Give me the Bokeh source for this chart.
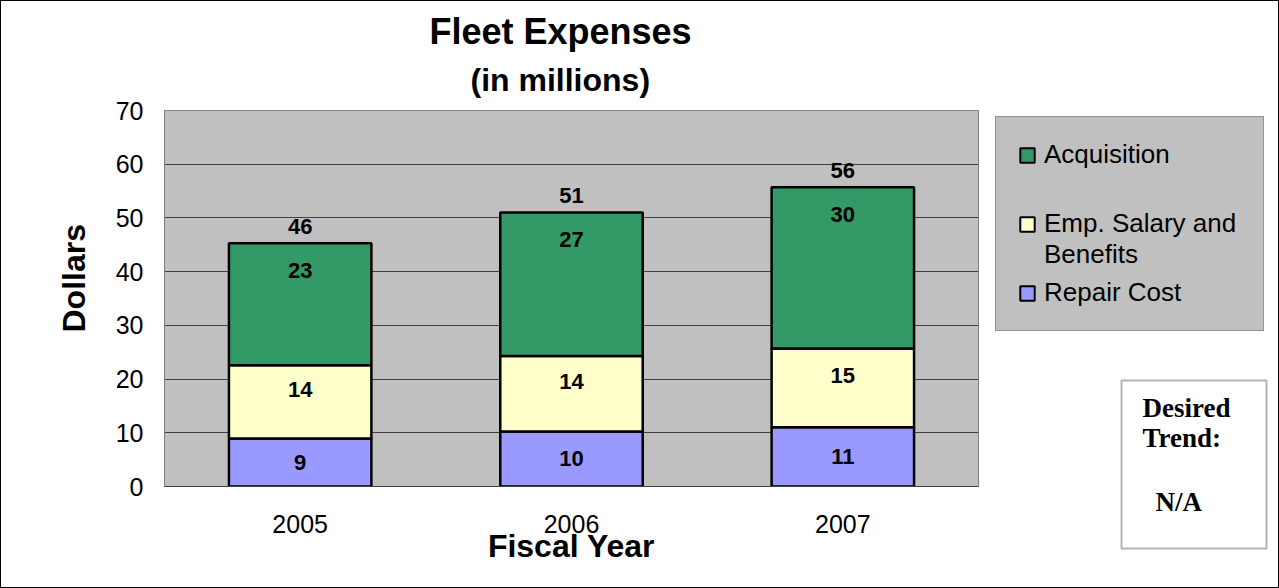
from bokeh.plotting import figure
from bokeh.layouts import row
from bokeh.models import (ColumnDataSource, FactorRange, Range1d, Legend, LegendItem,
                          Label, BoxAnnotation, Title)
from bokeh.core.properties import value
from bokeh.embed import file_html
from bokeh.resources import INLINE

# ---------------- data ----------------
years = ["2005", "2006", "2007"]
repair_cost = [8.95, 10.25, 11.05]
emp_salary = [13.6, 14.05, 14.65]
acquisition = [22.75, 26.7, 30.0]
repair_labels = ["9", "10", "11"]
salary_labels = ["14", "14", "15"]
acquisition_labels = ["23", "27", "30"]
total_labels = ["46", "51", "56"]
y_ticks = [0, 10, 20, 30, 40, 50, 60, 70]
legend_labels = ["Acquisition", " \nEmp. Salary and\nBenefits", "Repair Cost"]

SANS = "Liberation Sans"
SERIF = "Liberation Serif"
C_REPAIR, C_SALARY, C_ACQ = "#9999FF", "#FFFFCC", "#339966"

repair_mid = [r / 2 for r in repair_cost]
salary_mid = [r + s / 2 for r, s in zip(repair_cost, emp_salary)]
bar_top = [r + s + a for r, s, a in zip(repair_cost, emp_salary, acquisition)]

src = ColumnDataSource(dict(
    years=years,
    repair=repair_cost, salary=emp_salary, acq=acquisition,
    repair_mid=repair_mid, salary_mid=salary_mid, top=bar_top,
    repair_lbl=repair_labels, salary_lbl=salary_labels,
    acq_lbl=acquisition_labels, total_lbl=total_labels,
))

# ---------------- main chart ----------------
p = figure(
    x_range=FactorRange(factors=years, range_padding=0),
    y_range=Range1d(0, 70),
    width=988, height=586,
    min_border_left=163, min_border_right=11,
    min_border_top=109, min_border_bottom=101,
    output_backend="svg", toolbar_location=None,
)
p.frame_align = False
p.title.visible = False
p.background_fill_color = "#C0C0C0"
p.border_fill_color = "white"
p.outline_line_color = "#808080"
p.outline_line_width = 1

p.xgrid.visible = False
p.ygrid.ticker = y_ticks
p.ygrid.grid_line_color = "#404040"
p.ygrid.grid_line_width = 1

p.yaxis.ticker = y_ticks
for ax in (p.xaxis, p.yaxis):
    ax.major_tick_line_color = None
    ax.minor_tick_line_color = None
    ax.major_label_text_font = SANS
    ax.major_label_text_font_size = "25px"
    ax.major_label_text_color = "black"
    ax.axis_label_text_font = SANS
    ax.axis_label_text_font_style = "bold"
    ax.axis_label_text_color = "black"
p.yaxis.axis_line_color = "#808080"
p.xaxis.axis_line_color = "#404040"
p.yaxis.major_label_standoff = 15
p.xaxis.major_label_standoff = 22

p.xaxis.axis_label = "Fiscal Year"
p.xaxis.axis_label_text_font_size = "32px"
p.xaxis.axis_label_standoff = -8

# y-axis title placed as a side title so it can sit where the original does
p.add_layout(Title(text="Dollars", align="left", offset=154, text_font=SANS,
                   text_font_style="bold", text_font_size="32px",
                   text_color="black", standoff=42), "left")

p.add_layout(Title(text="(in millions)", align="left", offset=306, text_font=SANS,
                   text_font_style="bold", text_font_size="32px",
                   text_color="black", standoff=25), "above")
p.add_layout(Title(text="Fleet Expenses", align="left", offset=265, text_font=SANS,
                   text_font_style="bold", text_font_size="36px",
                   text_color="black", standoff=-9), "above")

p.vbar_stack(["repair", "salary", "acq"], x="years", width=0.525,
             color=[C_REPAIR, C_SALARY, C_ACQ], line_color="black",
             line_width=2.5, source=src)

common = dict(source=src, text_align="center", text_baseline="middle",
              text_font=value(SANS), text_font_style="bold",
              text_font_size="22px", text_color="black")
p.text(x="years", y="repair_mid", text="repair_lbl", **common)
p.text(x="years", y="salary_mid", text="salary_lbl", y_offset=-12, **common)
p.text(x="years", y="top", text="acq_lbl", y_offset=27, **common)
p.text(x="years", y="top", text="total_lbl", y_offset=-17, **common)

# ---------------- side panel: legend + desired trend ----------------
q = figure(width=289, height=586, x_range=Range1d(0, 289), y_range=Range1d(0, 586),
           min_border=0, x_axis_location=None, y_axis_location=None,
           output_backend="svg", toolbar_location=None)
q.frame_align = False
q.title.visible = False
q.grid.visible = False
q.outline_line_color = None
q.background_fill_color = "white"
q.border_fill_color = "white"

nan = float("nan")
items = []
for lbl, col in zip(legend_labels, [C_ACQ, C_SALARY, C_REPAIR]):
    r = q.quad(left=[nan], right=[nan], top=[nan], bottom=[nan], fill_color=col,
               line_color="black", line_width=2)
    items.append(LegendItem(label=lbl, renderers=[r]))

legend = Legend(items=items, location=(6, 256))
legend.background_fill_color = "#C0C0C0"
legend.background_fill_alpha = 1
legend.border_line_color = "#666666"
legend.border_line_width = 1
legend.label_text_font = SANS
legend.label_text_font_size = "26px"
legend.label_text_color = "black"
legend.glyph_width = 18
legend.glyph_height = 18
legend.label_standoff = 8
legend.label_width = 197
legend.spacing = 7
legend.padding = 22
legend.margin = 0
q.add_layout(legend, "center")

q.add_layout(BoxAnnotation(left=132, right=277, top=207, bottom=39,
                           fill_color="white", fill_alpha=1,
                           line_color="black", line_width=2))
for txt, x, y in (("Desired", 153, 180), ("Trend:", 153, 150), ("N/A", 166, 86)):
    q.add_layout(Label(x=x, y=y, text=txt, text_align="left",
                       text_baseline="alphabetic", text_font=SERIF,
                       text_font_style="bold", text_font_size="27px",
                       text_color="black"))

layout = row(p, q, styles={"border": "1px solid black"})

open("out.html", "w").write(file_html(layout, INLINE))
